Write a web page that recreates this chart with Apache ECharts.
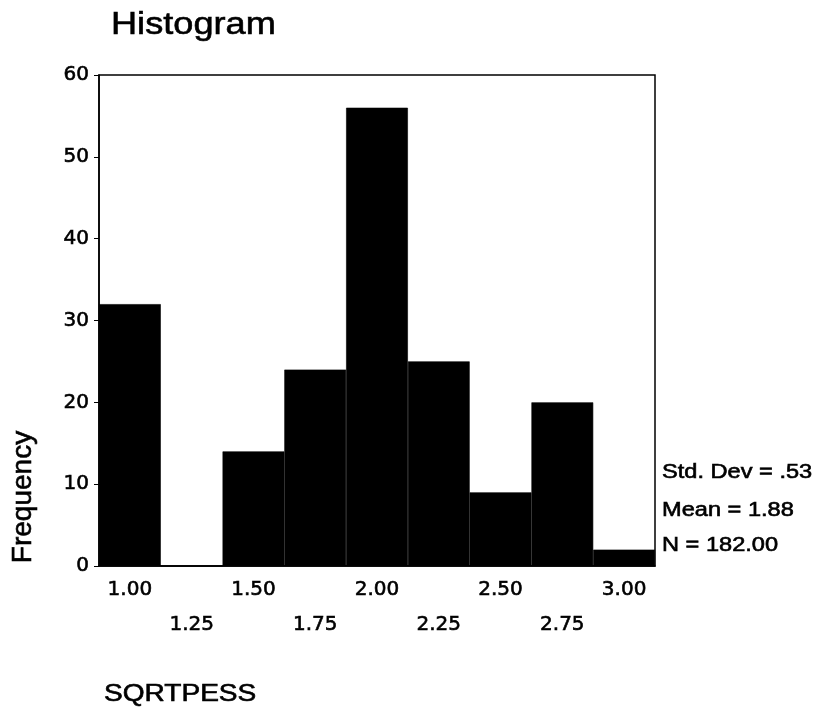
<!DOCTYPE html>
<html>
<head>
<meta charset="utf-8">
<script src="https://cdn.jsdelivr.net/npm/echarts@6/dist/echarts.min.js"></script>
<style>
  html, body { margin: 0; padding: 0; background: #fff; }
  #main { width: 819px; height: 715px; }
</style>
</head>
<body>
<div id="main"></div>
<script>
// bin centres of SQRTPESS and their counts
var binLabels = ['1.00', '1.25', '1.50', '1.75', '2.00', '2.25', '2.50', '2.75', '3.00'];
var counts = [32, 0, 14, 24, 56, 25, 9, 20, 2];
var yTicks = { min: 0, max: 60, step: 10 };
var statsLines = ['Std. Dev = .53', 'Mean = 1.88', 'N = 182.00'];

var axisFont = 'DejaVu Sans';
var textFont = '"Liberation Sans", Arial, sans-serif';
var chart = echarts.init(document.getElementById('main'));

// the scanned type is a bit wider and heavier than plain Arial
function label(x, y, text, size, sx, extra) {
  var el = {
    type: 'text', x: x, y: y, scaleX: sx || 1,
    style: {
      text: text, font: size + 'px ' + textFont, fill: '#000',
      stroke: '#000', lineWidth: 0.6,
      align: 'left', verticalAlign: 'middle'
    }
  };
  return Object.assign(el, extra || {});
}

var option = {
  backgroundColor: '#fff',
  animation: false,
  grid: {
    left: 99,
    right: 164,
    top: 75,
    bottom: 149,
    show: true,
    borderColor: '#000',
    borderWidth: 1.5,
    backgroundColor: 'transparent'
  },
  xAxis: {
    type: 'category',
    data: binLabels,
    boundaryGap: true,
    axisLine: { lineStyle: { color: '#000', width: 1.5 } },
    axisTick: { alignWithLabel: true, length: 5, lineStyle: { color: '#000' } },
    axisLabel: {
      interval: 0,
      margin: 8,
      color: '#000',
      fontFamily: axisFont,
      fontSize: 20,
      // labels alternate between two rows
      formatter: function (v, i) {
        return i % 2 ? '{b|' + v + '}' : '{a|' + v + '}';
      },
      rich: {
        a: { fontFamily: axisFont, fontSize: 20, color: '#000', lineHeight: 32, textBorderColor: '#000', textBorderWidth: 0.6 },
        b: { fontFamily: axisFont, fontSize: 20, color: '#000', lineHeight: 102, textBorderColor: '#000', textBorderWidth: 0.6 }
      }
    },
    splitLine: { show: false }
  },
  yAxis: {
    type: 'value',
    min: yTicks.min,
    max: yTicks.max,
    interval: yTicks.step,
    axisLine: { show: true, lineStyle: { color: '#000', width: 1.5 } },
    axisTick: { show: true, length: 5, lineStyle: { color: '#000' } },
    axisLabel: {
      margin: 10, color: '#000', fontFamily: axisFont, fontSize: 20,
      textBorderColor: '#000', textBorderWidth: 0.6
    },
    splitLine: { show: false }
  },
  series: [{
    type: 'bar',
    data: counts,
    barCategoryGap: '0%',
    // thin border closes the antialiased seams between bins
    itemStyle: { color: '#000', borderColor: '#000', borderWidth: 0.6 }
  }],
  graphic: [
    label(111, 25, 'Histogram', 32, 1.13),
    label(23, 497, 'Frequency', 28, 1, { rotation: Math.PI / 2, style: {
      text: 'Frequency', font: '28px ' + textFont, fill: '#000', stroke: '#000', lineWidth: 0.6,
      align: 'center', verticalAlign: 'middle'
    } }),
    label(104, 695, 'SQRTPESS', 23, 1.22)
  ].concat(statsLines.map(function (t, i) {
    return label(662, [472, 510, 545][i], t, 20, 1.18);
  }))
};

chart.setOption(option);
</script>
</body>
</html>
